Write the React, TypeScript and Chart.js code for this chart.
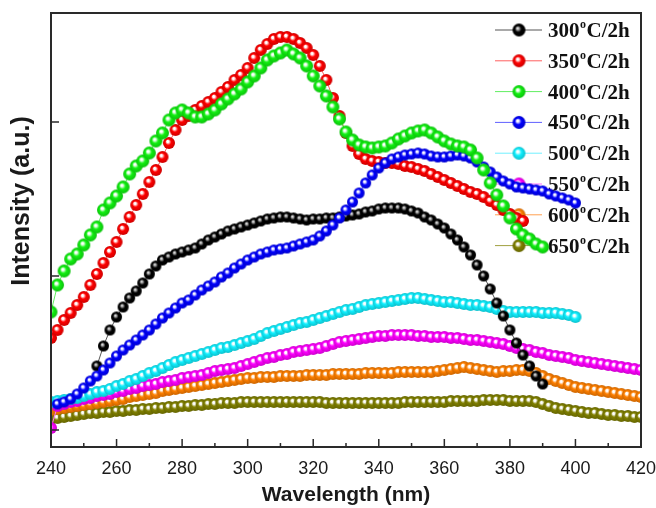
import React, { useEffect, useRef } from 'react';
import { Chart, registerables } from 'chart.js';

Chart.register(...registerables);

const N = null;

// Wavelength grid (nm)
const wavelengths = [
  240, 242, 244, 246, 248, 250, 252, 254, 256, 258,
  260, 262, 264, 266, 268, 270, 272, 274, 276, 278,
  280, 282, 284, 286, 288, 290, 292, 294, 296, 298,
  300, 302, 304, 306, 308, 310, 312, 314, 316, 318,
  320, 322, 324, 326, 328, 330, 332, 334, 336, 338,
  340, 342, 344, 346, 348, 350, 352, 354, 356, 358,
  360, 362, 364, 366, 368, 370, 372, 374, 376, 378,
  380, 382, 384, 386, 388, 390, 392, 394, 396, 398,
  400, 402, 404, 406, 408, 410, 412, 414, 416, 418,
  420,
];

// Intensity (a.u.) per series, aligned with wavelengths
const s300 = [
  N, N, N, N, N, N, N,
  64, 84, 100,
  113, 123, 132, 139, 147, 156, 164, 170, 173, 176,
  178, 180, 182, 186, 190, 193, 196, 199, 201, 203,
  205, 207, 209, 211, 212, 213, 213, 212, 211, 210,
  211, 211, 212, 212, 213, 214, 215, 216, 218, 219,
  221, 222, 222, 222, 221, 219, 217, 213, 210, 206,
  202, 196, 190, 183, 175, 165, 154, 141, 127, 114,
  100, 87, 75, 64, 54, 46,
  N, N, N, N, N, N, N, N, N, N, N, N, N, N, N,
];
const s350 = [
  92, 100, 110, 117, 125, 133, 145, 156, 167, 178,
  188, 201, 213, 225, 236, 248, 260, 273, 287, 300,
  310, 314, 320, 324, 328, 332, 338, 343, 350, 355,
  362, 372, 380, 386, 391, 393, 393, 391, 387, 382,
  375, 364, 350, 332, 314, 297, 284, 276, 271, 269,
  268, 267, 267, 266, 264, 263, 261, 259, 256, 253,
  250, 247, 244, 241, 238, 236, 233, 229, 225, 220,
  216, 212, 209,
  N, N, N, N, N, N, N, N, N, N, N, N, N, N, N, N, N, N,
];
const s400 = [
  118, 145, 159, 171, 176, 185, 195, 203, 220, 227,
  234, 243, 256, 264, 269, 277, 289, 297, 310, 317,
  320, 317, 313, 313, 316, 320, 326, 331, 336, 341,
  348, 354, 362, 370, 374, 377, 380, 376, 372, 364,
  354, 344, 334, 323, 311, 298, 290, 285, 283, 282,
  283, 284, 287, 291, 294, 297, 299, 300, 297, 293,
  289, 286, 284, 283, 280, 272, 260, 247, 235, 224,
  212, 201, 195, 191, 186, 183,
  N, N, N, N, N, N, N, N, N, N, N, N, N, N, N,
];
const s450 = [
  N, 26, 28, 31, 36, 42, 49, 54, 60, 67,
  74, 80, 85, 90, 95, 100, 106, 112, 117, 122,
  127, 130, 135, 140, 144, 148, 153, 157, 162, 166,
  170, 173, 176, 178, 180, 181, 182, 184, 186, 188,
  190, 194, 199, 205, 212, 220, 228, 237, 247, 255,
  262, 267, 271, 273, 275, 276, 277, 276, 274, 273,
  273, 274, 275, 274, 272, 268, 263, 258, 253, 249,
  246, 243, 242, 241, 240, 239, 236, 234, 232, 230,
  227,
  N, N, N, N, N, N, N, N, N, N,
];
const s500 = [
  28, 29, 30, 31, 32, 34, 36, 38, 39, 41,
  44, 46, 49, 51, 54, 57, 59, 62, 65, 68,
  70, 72, 74, 76, 78, 80, 82, 83, 85, 87,
  89, 91, 94, 97, 99, 101, 103, 105, 107, 108,
  110, 112, 114, 116, 118, 120, 121, 123, 125, 126,
  127, 128, 129, 130, 131, 132, 132, 131, 130, 129,
  128, 128, 127, 126, 125, 125, 124, 123, 121, 119,
  118, 118, 118, 118, 118, 117, 117, 117, 116, 115,
  113,
  N, N, N, N, N, N, N, N, N, N,
];
const s550 = [
  2, 24, 26, 28, 29, 31, 32, 34, 35, 36,
  38, 39, 41, 42, 44, 45, 46, 48, 49, 50,
  52, 53, 54, 55, 57, 59, 60, 61, 62, 64,
  66, 68, 70, 72, 73, 75, 76, 78, 79, 80,
  81, 82, 84, 86, 88, 89, 90, 91, 92, 93,
  94, 94, 95, 95, 95, 95, 94, 94, 93, 93,
  93, 92, 92, 91, 90, 90, 89, 88, 87, 86,
  84, 82, 81, 80, 78, 77, 75, 74, 73, 72,
  70, 69, 68, 67, 66, 65, 64, 63, 62, 61,
  60,
];
const s600 = [
  20, 21, 22, 23, 24, 25, 26, 27, 28, 29,
  30, 31, 33, 34, 35, 36, 37, 39, 40, 41,
  42, 43, 44, 45, 46, 47, 48, 49, 50, 51,
  52, 52, 53, 53, 53, 54, 54, 54, 54, 55,
  55, 55, 55, 56, 56, 56, 56, 56, 57, 57,
  57, 57, 57, 58, 58, 58, 58, 58, 58, 59,
  60, 61, 62, 63, 62, 61, 60, 59, 58, 59,
  59, 60, 60, 59, 57, 54, 51, 49, 47, 45,
  43, 42, 41, 40, 39, 38, 37, 36, 35, 34,
  33,
];
const s650 = [
  11, 12, 13, 14, 15, 16, 17, 17, 18, 18,
  19, 19, 20, 20, 21, 21, 22, 22, 23, 23,
  24, 24, 25, 25, 26, 26, 27, 27, 27, 28,
  28, 28, 28, 28, 28, 28, 28, 28, 28, 28,
  28, 28, 27, 27, 27, 27, 27, 27, 27, 27,
  27, 27, 27, 27, 28, 28, 28, 28, 28, 28,
  28, 29, 29, 29, 29, 29, 30, 30, 30, 30,
  29, 29, 29, 29, 28, 26, 24, 22, 21, 20,
  19, 18, 17, 17, 16, 15, 15, 14, 14, 13,
  13,
];

const temperatures = ['300', '350', '400', '450', '500', '550', '600', '650'];
const seriesValues = [s300, s350, s400, s450, s500, s550, s600, s650];
const seriesColors = ['#000000', '#ff0000', '#10f010', '#0000ff', '#10f0ff', '#ff00ff', '#ff8000', '#808000'];
const lineColors = ['#555555', '#ff6060', '#60ee60', '#6060ff', '#70f0ff', '#ff70ff', '#ffa050', '#a0a040'];
const ballRadius = [5.5, 6, 6.5, 5.5, 6, 6, 6, 6];
const drawOrder = [3, 2, 0, 1, 4, 5, 6, 7];

const xMin = 240;
const xMax = 420;
const xStep = 20;
const yMin = -17;
const yMax = 417;
const yTicks = [0, 154, 308];

function darker(hex: string, f: number): string {
  const n = parseInt(hex.slice(1), 16);
  const r = Math.round(((n >> 16) & 255) * f);
  const g = Math.round(((n >> 8) & 255) * f);
  const b = Math.round((n & 255) * f);
  return `rgb(${r},${g},${b})`;
}

function makeBall(color: string, r: number): HTMLCanvasElement {
  const size = Math.ceil(2 * r + 2);
  const c = document.createElement('canvas');
  c.width = size;
  c.height = size;
  const g = c.getContext('2d')!;
  const cx = size / 2;
  const cy = size / 2;
  const grad = g.createRadialGradient(cx - r * 0.25, cy - r * 0.3, 0, cx, cy, r);
  grad.addColorStop(0, '#ffffff');
  grad.addColorStop(0.18, color === '#000000' ? '#bbbbbb' : '#ffffff');
  grad.addColorStop(0.5, color);
  grad.addColorStop(1, darker(color, 0.8));
  g.fillStyle = grad;
  g.beginPath();
  g.arc(cx, cy, r, 0, Math.PI * 2);
  g.fill();
  return c;
}

const decorPlugin = {
  id: 'decor',
  beforeDatasetsDraw(chart: any) {
    const ctx = chart.ctx as CanvasRenderingContext2D;
    ctx.save();
    const rowY0 = 30;
    const rowStep = 30.8;
    temperatures.forEach((t, i) => {
      const y = rowY0 + i * rowStep;
      ctx.strokeStyle = lineColors[i];
      ctx.lineWidth = 1;
      ctx.beginPath();
      ctx.moveTo(495, y);
      ctx.lineTo(542, y);
      ctx.stroke();
      const ball = makeBall(seriesColors[i], 6.5);
      ctx.drawImage(ball, 519 - ball.width / 2, y - ball.height / 2);
      ctx.fillStyle = '#111111';
      ctx.textBaseline = 'alphabetic';
      ctx.textAlign = 'left';
      ctx.font = 'bold 21px "Liberation Serif"';
      let x = 548;
      ctx.fillText(t, x, y + 7);
      x += ctx.measureText(t).width + 0.5;
      ctx.font = 'bold 12px "Liberation Serif"';
      ctx.fillText('o', x, y - 2);
      x += ctx.measureText('o').width + 0.5;
      ctx.font = 'bold 21px "Liberation Serif"';
      ctx.fillText('C/2h', x, y + 7);
    });
    ctx.restore();
  },
  afterDatasetsDraw(chart: any) {
    const ctx = chart.ctx as CanvasRenderingContext2D;
    const { left, right, top, bottom } = chart.chartArea;
    const xs = chart.scales.x;
    const ys = chart.scales.y;
    ctx.save();
    ctx.strokeStyle = '#2a2a2a';
    ctx.lineWidth = 2;
    ctx.strokeRect(left, top, right - left, bottom - top);
    ctx.lineWidth = 1.5;
    ctx.beginPath();
    const ticks = xs.ticks.map((t: any) => t.value);
    ticks.forEach((v: number, i: number) => {
      const px = xs.getPixelForValue(v);
      ctx.moveTo(px, bottom);
      ctx.lineTo(px, bottom - 8);
      if (i < ticks.length - 1) {
        const pm = xs.getPixelForValue((v + ticks[i + 1]) / 2);
        ctx.moveTo(pm, bottom);
        ctx.lineTo(pm, bottom - 4);
      }
    });
    ys.ticks.forEach((t: any) => {
      const py = ys.getPixelForValue(t.value);
      ctx.moveTo(left, py);
      ctx.lineTo(left + 8, py);
    });
    ctx.stroke();
    // y-axis title
    ctx.translate(22, 201);
    ctx.rotate(-Math.PI / 2);
    ctx.fillStyle = '#1a1a1a';
    ctx.font = 'bold 25px "Liberation Sans"';
    ctx.textAlign = 'center';
    ctx.textBaseline = 'middle';
    ctx.fillText('Intensity (a.u.)', 0, 0);
    ctx.restore();
  },
};

export default function App() {
  const canvasRef = useRef<HTMLCanvasElement | null>(null);

  useEffect(() => {
    const canvas = canvasRef.current;
    if (!canvas) return;
    const datasets = seriesValues.map((vals, i) => ({
      label: `${temperatures[i]}°C/2h`,
      data: vals.map((v, j) => ({ x: wavelengths[j], y: v })),
      borderColor: lineColors[i],
      borderWidth: 1,
      pointStyle: makeBall(seriesColors[i], ballRadius[i]),
      pointRadius: ballRadius[i],
      order: drawOrder[i],
      tension: 0,
    }));
    const chart = new Chart(canvas, {
      type: 'line',
      data: { datasets },
      options: {
        responsive: false,
        animation: false,
        events: [],
        layout: { padding: { left: 0, top: 13, right: 15, bottom: 0 } },
        plugins: { legend: { display: false }, tooltip: { enabled: false } },
        scales: {
          x: {
            type: 'linear',
            min: xMin,
            max: xMax,
            afterFit: (s: any) => {
              s.height = 61;
              s.paddingLeft = 0;
              s.paddingRight = 0;
            },
            grid: { display: false },
            border: { display: false },
            ticks: {
              stepSize: xStep,
              autoSkip: false,
              maxRotation: 0,
              padding: 3,
              color: '#1a1a1a',
              font: { family: '"Liberation Sans"', size: 18 },
            },
            title: {
              display: true,
              text: 'Wavelength (nm)',
              color: '#1a1a1a',
              font: { family: '"Liberation Sans"', size: 21, weight: 'bold' },
              padding: { top: 1, bottom: 0 },
            },
          },
          y: {
            type: 'linear',
            min: yMin,
            max: yMax,
            afterFit: (s: any) => {
              s.width = 51;
            },
            afterBuildTicks: (s: any) => {
              s.ticks = yTicks.map((v) => ({ value: v }));
            },
            grid: { display: false },
            border: { display: false },
            ticks: { display: false },
          },
        },
      },
      plugins: [decorPlugin],
    });
    return () => chart.destroy();
  }, []);

  return (
    <div style={{ position: 'fixed', left: 0, top: 0, width: 656, height: 508, background: '#ffffff' }}>
      <canvas ref={canvasRef} width={656} height={508} style={{ display: 'block' }} />
    </div>
  );
}
